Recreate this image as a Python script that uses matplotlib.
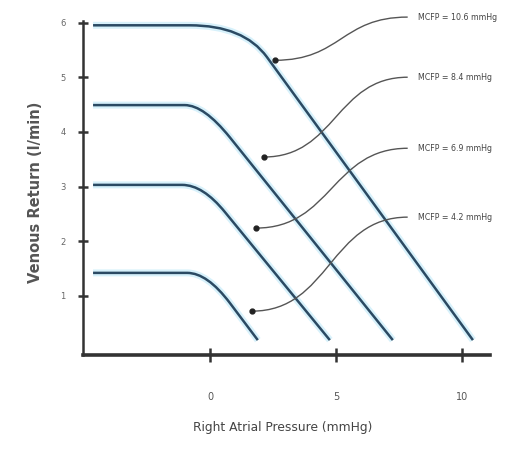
import numpy as np
import matplotlib.pyplot as plt
from matplotlib.path import Path
from matplotlib.patches import PathPatch

# Venous return curves: start, bend start, corner (control), bend end, end
curve1_x = [-4.64, -0.8, 1.34, 2.26, 10.44]
curve1_y = [5.95, 5.95, 5.95, 5.37, 0.19]
curve2_x = [-4.64, -1.0, -0.24, 0.79, 7.26]
curve2_y = [4.49, 4.49, 4.49, 3.90, 0.19]
curve3_x = [-4.64, -1.1, -0.28, 0.60, 4.76]
curve3_y = [3.03, 3.03, 3.03, 2.53, 0.19]
curve4_x = [-4.64, -0.9, -0.11, 0.79, 1.90]
curve4_y = [1.42, 1.42, 1.42, 0.87, 0.19]

mcfp_labels = ["MCFP = 10.6 mmHg", "MCFP = 8.4 mmHg", "MCFP = 6.9 mmHg", "MCFP = 4.2 mmHg"]
label_y = [6.10, 5.00, 3.70, 2.44]
arrow_x = [2.58, 2.14, 1.83, 1.67]
arrow_y = [5.31, 3.54, 2.24, 0.72]

x_ticks = [0, 5, 10]
y_ticks = [1, 2, 3, 4, 5, 6]

fig = plt.figure(figsize=(5.06, 4.49), dpi=100)
ax = fig.add_axes([0.164, 0.2094, 0.804, 0.744])
ax.set_xlim(-5.04, 11.11)
ax.set_ylim(-0.082, 6.03)

codes = [Path.MOVETO, Path.LINETO, Path.CURVE3, Path.CURVE3, Path.LINETO]
for cx, cy in [(curve1_x, curve1_y), (curve2_x, curve2_y),
               (curve3_x, curve3_y), (curve4_x, curve4_y)]:
    path = Path(np.column_stack([cx, cy]), codes)
    ax.add_patch(PathPatch(path, fill=False, ec="#cdeefa", lw=5, alpha=0.8,
                           capstyle="butt", clip_on=False))
    ax.add_patch(PathPatch(path, fill=False, ec="#2b4a63", lw=1.8,
                           capstyle="butt", clip_on=False))

# labels with S-shaped connectors
text_x = 8.25
start_x = 7.85
for lab, ty, ax_, ay in zip(mcfp_labels, label_y, arrow_x, arrow_y):
    ax.text(text_x, ty, lab, fontsize=5.7, color="#444444", va="center", ha="left")
    xm = (start_x + ax_) / 2
    conn = Path([(start_x, ty), (xm, ty), (xm, ay), (ax_, ay)],
                [Path.MOVETO, Path.CURVE4, Path.CURVE4, Path.CURVE4])
    ax.add_patch(PathPatch(conn, fill=False, ec="#555555", lw=1.0, clip_on=False))
    ax.plot(ax_, ay, "o", color="#222222", ms=3.5, clip_on=False)

for s in ["top", "right"]:
    ax.spines[s].set_visible(False)
ax.spines["left"].set_linewidth(1.8)
ax.spines["left"].set_color("#333333")
ax.spines["bottom"].set_linewidth(2.6)
ax.spines["bottom"].set_color("#333333")

ax.set_xticks(x_ticks)
ax.set_xticklabels([str(t) for t in x_ticks])
ax.set_yticks(y_ticks)
ax.set_yticklabels([str(t) for t in y_ticks])
ax.tick_params(axis="x", direction="inout", length=10, width=1.8, color="#333333",
               pad=22, labelsize=7, labelcolor="#555555")
ax.tick_params(axis="y", direction="inout", length=7, width=1.8, color="#333333",
               pad=9, labelsize=6, labelcolor="#666666")

fig.text(283 / 506, 1 - 428 / 449, "Right Atrial Pressure (mmHg)", ha="center",
         va="center", fontsize=8.8, color="#444444")
fig.text(36 / 506, 1 - 192 / 449, "Venous Return (l/min)", ha="center", va="center",
         rotation=90, fontsize=10.5, fontweight="bold", color="#555555")

fig.savefig("out.png", dpi=100)
